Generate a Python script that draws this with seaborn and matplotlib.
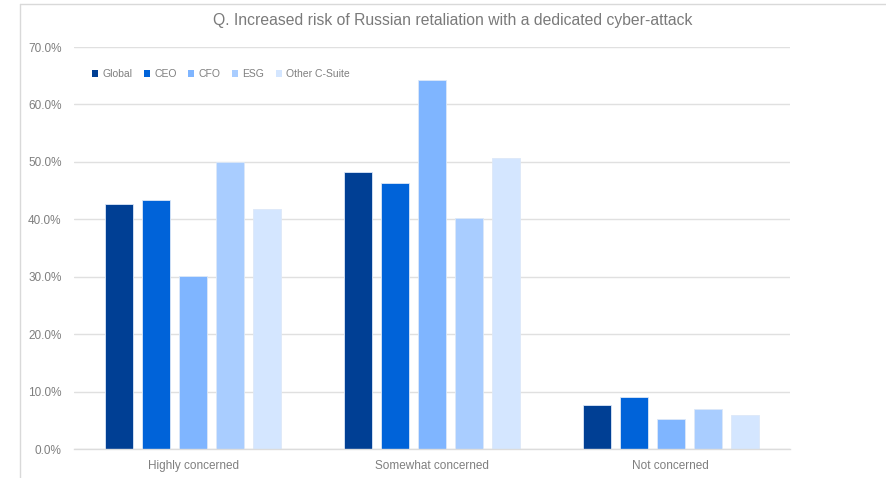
import matplotlib
matplotlib.use("Agg")
import matplotlib.pyplot as plt
from matplotlib.patches import Patch
from matplotlib.lines import Line2D
from matplotlib.ticker import FuncFormatter
import seaborn as sns
import pandas as pd

categories = ["Highly concerned", "Somewhat concerned", "Not concerned"]
groups = ["Global", "CEO", "CFO", "ESG", "Other C-Suite"]
global_vals = [42.6, 48.3, 7.7]
ceo_vals = [43.3, 46.4, 9.1]
cfo_vals = [30.2, 64.3, 5.2]
esg_vals = [49.9, 40.2, 7.0]
other_vals = [41.8, 50.6, 6.0]
colors = ["#003f94", "#0063d9", "#7fb5ff", "#a9cdff", "#d4e6ff"]
title = "Q. Increased risk of Russian retaliation with a dedicated cyber-attack"

series = [global_vals, ceo_vals, cfo_vals, esg_vals, other_vals]
rows = []
for g, vals in zip(groups, series):
    for c, v in zip(categories, vals):
        rows.append({"category": c, "group": g, "value": v})
df = pd.DataFrame(rows)

sns.set_style("white")
plt.rcParams["font.family"] = ["Liberation Sans", "DejaVu Sans"]

fig = plt.figure(figsize=(8.87, 4.78), dpi=100)
ax = fig.add_axes([74 / 887, 29 / 478, 716 / 887, 402 / 478])

sns.barplot(data=df, x="category", y="value", hue="group", order=categories,
            hue_order=groups, palette=colors, saturation=1, width=0.775, gap=0.24,
            edgecolor="#dce8f8", linewidth=0.6, legend=False, ax=ax)

ax.set_xlim(-0.5, 2.5)
ax.set_ylim(0, 70)
ax.set_yticks(range(0, 71, 10))
ax.yaxis.set_major_formatter(FuncFormatter(lambda v, p: f"{v:.1f}%"))
ax.yaxis.grid(True, color="#e0e0e0", linewidth=1.0)
ax.set_axisbelow(True)
for s in ["left", "right", "top"]:
    ax.spines[s].set_visible(False)
ax.spines["bottom"].set_color("#dcdcdc")
ax.spines["bottom"].set_linewidth(1.0)
ax.tick_params(axis="both", length=0, colors="#7f7f7f", labelsize=8.5)
ax.tick_params(axis="y", pad=9)
ax.tick_params(axis="x", pad=8)
ax.set_xlabel("")
ax.set_ylabel("")

fig.text(453 / 887, 1 - 20 / 478, title, ha="center", va="center",
         fontsize=11.3, color="#7a7a7a")

handles = [Patch(facecolor=c, edgecolor="none") for c in colors]
leg = ax.legend(handles, groups, loc="center left", bbox_to_anchor=(0.025, 0.933),
                ncol=5, frameon=False, fontsize=7.5, handlelength=0.6,
                handleheight=0.6, handletextpad=0.4, columnspacing=1.1,
                borderpad=0, borderaxespad=0)
for t in leg.get_texts():
    t.set_color("#7f7f7f")

# chart frame lines along the top and left edges
fig.add_artist(Line2D([20 / 887, 1.0], [1 - 4 / 478, 1 - 4 / 478],
                      transform=fig.transFigure, color="#d9d9d9", linewidth=1.0))
fig.add_artist(Line2D([20 / 887, 20 / 887], [0, 1 - 4 / 478],
                      transform=fig.transFigure, color="#d9d9d9", linewidth=1.0))

fig.savefig("out.png", dpi=100)
